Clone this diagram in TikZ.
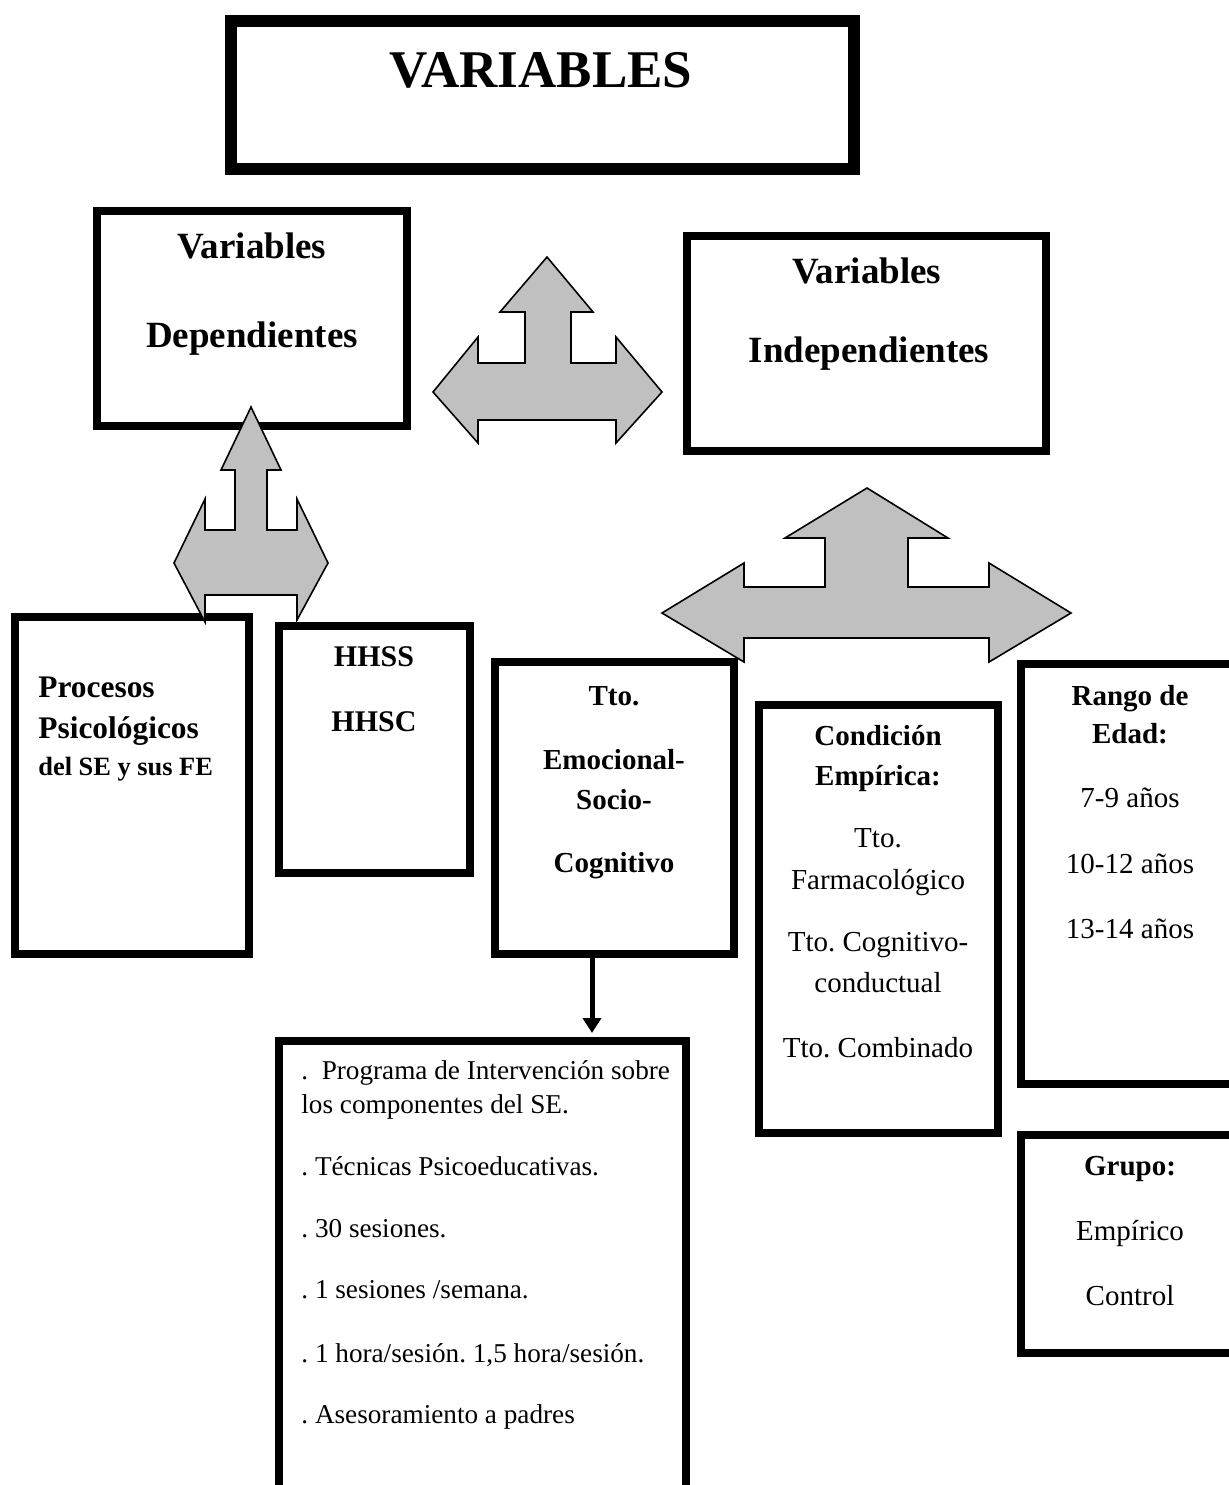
\documentclass[tikz,border=0pt]{standalone}
\usepackage{fontspec}
\setmainfont{Liberation Serif}
\usetikzlibrary{arrows.meta}
\definecolor{arrowgray}{HTML}{C0C0C0}
\frenchspacing

\begin{document}
\begin{tikzpicture}[x=0.5pt, y=-0.5pt,
	box/.style={draw=black, line width=4pt, inner sep=0pt},
	blockarrow/.style={fill=arrowgray, draw=black, line width=0.8pt, line join=miter},
	link/.style={draw=black, line width=2.5pt, -{Triangle[length=7.5pt,width=9pt]}, shorten >=2pt},
	titletext/.style={font=\fontsize{26.5}{30}\selectfont\bfseries, anchor=base, inner sep=0pt},
	headtext/.style={font=\fontsize{18.5}{22}\selectfont\bfseries, anchor=base, inner sep=0pt},
	boldtext/.style={font=\fontsize{14.5}{17}\selectfont\bfseries, anchor=base, inner sep=0pt},
	plaintext/.style={font=\fontsize{14.5}{17}\selectfont, anchor=base, inner sep=0pt},
	listtext/.style={font=\fontsize{13.6}{16}\selectfont, anchor=base west, inner sep=0pt}]
	\useasboundingbox (0,0) rectangle (1229,1485);
	\clip (0,0) rectangle (1229,1485);

	\node[box, line width=6pt, minimum width=311.5pt, minimum height=74pt] (vars) at (542.5,95) {};
	\node[box, minimum width=155pt, minimum height=107.5pt] (dep) at (252,318.5) {};
	\node[box, minimum width=179.5pt, minimum height=107.5pt] (indep) at (866.5,343.5) {};
	\node[box, minimum width=117pt, minimum height=168.5pt] (proc) at (131.5,785) {};
	\node[box, minimum width=95.5pt, minimum height=123.5pt] (hhss) at (374.5,749) {};
	\node[box, minimum width=119.5pt, minimum height=146pt] (tto) at (614.5,808) {};
	\node[box, minimum width=119.5pt, minimum height=214pt] (cond) at (878.5,919) {};
	\node[box, minimum width=117.5pt, minimum height=210pt] (edad) at (1138.5,874) {};
	\node[box, minimum width=117.5pt, minimum height=109pt] (grupo) at (1138.5,1244) {};
	\node[box, minimum width=203.5pt, minimum height=237.5pt] (prog) at (482.5,1278.5) {};

	\node[titletext] (varst) at (541,87) {VARIABLES};

	\node[headtext] (dep1) at (252,258) {Variables};
	\node[headtext] (dep2) at (252,347) {Dependientes};

	\node[headtext] (indep1) at (867,283) {Variables};
	\node[headtext] (indep2) at (869,362) {Independientes};

	\node[boldtext, anchor=base west, font=\fontsize{15.7}{18}\selectfont\bfseries] (proc1) at (38,697) {Procesos};
	\node[boldtext, anchor=base west, font=\fontsize{15.7}{18}\selectfont\bfseries] (proc2) at (38,738) {Psicológicos};
	\node[boldtext, anchor=base west, font=\fontsize{13.2}{16}\selectfont\bfseries] (proc3) at (38,775) {del SE y sus FE};

	\node[boldtext, font=\fontsize{15}{18}\selectfont\bfseries] (hhss1) at (374,666) {HHSS};
	\node[boldtext, font=\fontsize{15}{18}\selectfont\bfseries] (hhss2) at (374,731) {HHSC};

	\node[boldtext] (tto1) at (614,705) {Tto.};
	\node[boldtext] (tto2) at (614,769) {Emocional-};
	\node[boldtext] (tto3) at (614,809) {Socio-};
	\node[boldtext] (tto4) at (614,872) {Cognitivo};

	\node[boldtext] (cond1) at (878,745) {Condición};
	\node[boldtext] (cond2) at (878,785) {Empírica:};
	\node[plaintext] (cond3) at (878,847) {Tto.};
	\node[plaintext] (cond4) at (878,889) {Farmacológico};
	\node[plaintext] (cond5) at (878,951) {Tto. Cognitivo-};
	\node[plaintext] (cond6) at (878,992) {conductual};
	\node[plaintext] (cond7) at (878,1057) {Tto. Combinado};

	\node[boldtext] (edad1) at (1130,705) {Rango de};
	\node[boldtext] (edad2) at (1130,743) {Edad:};
	\node[plaintext] (edad3) at (1130,807) {7-9 años};
	\node[plaintext] (edad4) at (1130,873) {10-12 años};
	\node[plaintext] (edad5) at (1130,938) {13-14 años};

	\node[boldtext] (grupo1) at (1130,1175) {Grupo:};
	\node[plaintext] (grupo2) at (1130,1240) {Empírico};
	\node[plaintext] (grupo3) at (1130,1305) {Control};

	\node[listtext] (prog1) at (301,1079) {.~ Programa de Intervención sobre};
	\node[listtext] (prog2) at (301,1113) {los componentes del SE.};
	\node[listtext] (prog3) at (301,1175) {. Técnicas Psicoeducativas.};
	\node[listtext] (prog4) at (301,1237) {. 30 sesiones.};
	\node[listtext] (prog5) at (301,1298) {. 1 sesiones /semana.};
	\node[listtext] (prog6) at (301,1362) {. 1 hora/sesión. 1,5 hora/sesión.};
	\node[listtext] (prog7) at (301,1423) {. Asesoramiento a padres};

	\filldraw[blockarrow] (547,257) -- (593,312) -- (571,312) -- (571,363) -- (616,363) -- (616,337) -- (662,392) -- (616,443) -- (616,420) -- (478,420) -- (478,443) -- (433,392) -- (478,337) -- (478,363) -- (525,363) -- (525,312) -- (500,312) -- cycle;
	\filldraw[blockarrow] (251,407) -- (281,470) -- (267,470) -- (267,530) -- (297,530) -- (297,499) -- (328,563) -- (297,620) -- (297,595) -- (205,595) -- (205,622) -- (174,563) -- (205,499) -- (205,530) -- (235,530) -- (235,470) -- (221,470) -- cycle;
	\filldraw[blockarrow] (867,488) -- (948,538) -- (908,538) -- (908,587) -- (989,587) -- (989,563) -- (1071,613) -- (989,662) -- (989,638) -- (744,638) -- (744,662) -- (662,613) -- (744,563) -- (744,587) -- (825,587) -- (825,538) -- (785,538) -- cycle;

	\draw[link] ([xshift=-11.25pt]tto.south) -- ([xshift=-11.25pt]tto.south |- prog.north);
\end{tikzpicture}
\end{document}
